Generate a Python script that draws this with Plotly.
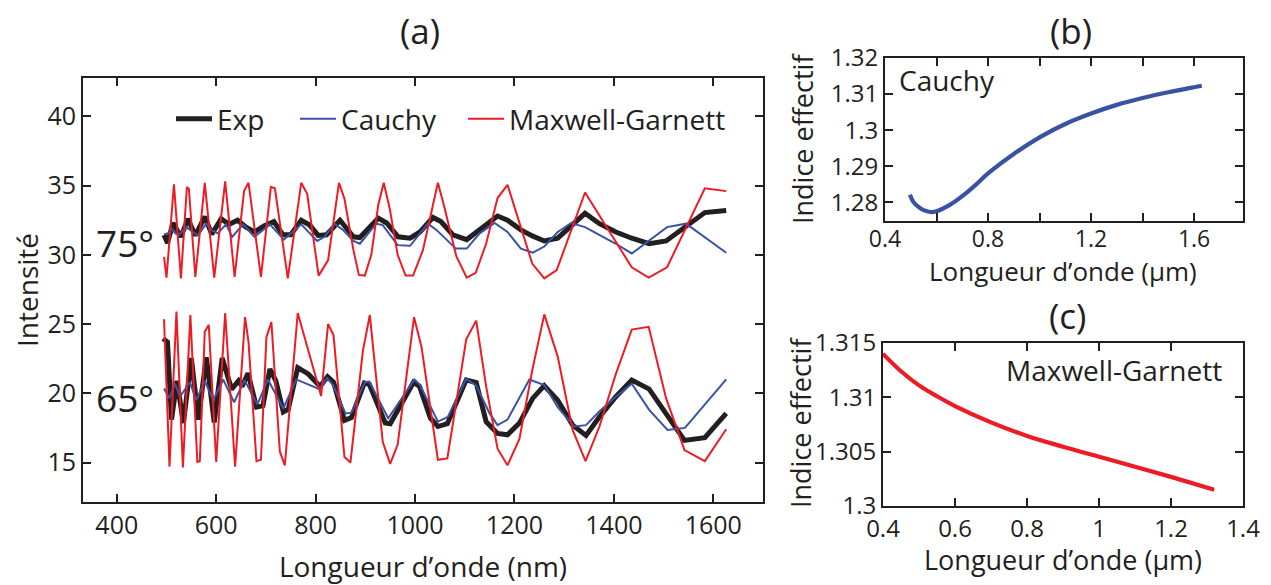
import plotly.graph_objects as go

# ---------------- Panel (a) data : intensity vs wavelength (nm) ----------------
wl_exp75 = [495, 502, 513, 529, 543, 558, 577, 591, 610, 626, 643, 660, 677, 697, 716, 734, 750, 771, 788,
            805, 822, 849, 876, 889, 926, 943, 966, 990, 1010, 1036, 1052, 1076, 1104, 1128, 1166, 1186,
            1213, 1237, 1260, 1287, 1317, 1342, 1371, 1404, 1436, 1471, 1505, 1545, 1583, 1626]
int_exp75 = [31.43, 30.85, 32.3, 31.3, 32.6, 31.4, 32.75, 31.5, 32.6, 32.2, 32.5, 32.0, 31.65, 32.1, 32.4,
             31.45, 31.45, 32.5, 32.15, 31.4, 31.45, 32.5, 31.3, 31.25, 32.65, 32.3, 31.3, 31.2, 31.65, 32.7,
             32.4, 31.45, 31.1, 31.75, 32.8, 32.5, 31.8, 31.35, 31.0, 31.2, 32.15, 33.0, 32.25, 31.65, 31.2,
             30.8, 31.0, 32.0, 33.05, 33.2]

wl_cau75 = [495, 503, 510, 518, 525, 540, 553, 563, 580, 590, 603, 620, 632, 647, 654, 677, 708, 736, 771,
            803, 818, 838, 855, 876, 889, 922, 935, 965, 990, 1026, 1043, 1082, 1104, 1130, 1160, 1186,
            1213, 1237, 1260, 1287, 1314, 1342, 1371, 1404, 1436, 1471, 1507, 1545, 1583, 1626]
int_cau75 = [31.48, 31.55, 31.9, 31.55, 31.45, 32.0, 31.65, 31.4, 32.25, 31.8, 31.55, 32.2, 31.3, 31.9, 32.2,
             31.3, 32.2, 31.1, 32.2, 31.0, 31.3, 32.25, 31.8, 31.0, 30.8, 32.25, 32.15, 30.7, 30.65, 32.25,
             31.8, 30.45, 30.45, 31.55, 32.3, 31.65, 30.45, 30.15, 30.6, 31.65, 32.3, 32.0, 31.45, 30.8,
             30.1, 31.05, 32.0, 32.25, 31.25, 30.15]

wl_mg75 = [495, 500, 515, 529, 541, 545, 558, 577, 596, 618, 637, 656, 665, 690, 710, 718, 744, 771, 783,
           806, 825, 847, 858, 876, 887, 899, 912, 926, 937, 949, 965, 981, 996, 1016, 1036, 1046, 1059,
           1083, 1104, 1122, 1143, 1166, 1186, 1236, 1260, 1285, 1342, 1436, 1470, 1507, 1583, 1626]
int_mg75 = [29.85, 28.35, 35.1, 28.3, 34.9, 34.75, 28.4, 35.2, 28.35, 35.3, 28.4, 34.6, 35.2, 28.4, 34.9,
            34.8, 28.3, 35.2, 34.4, 28.5, 29.6, 35.2, 34.05, 30.35, 28.55, 28.5, 30.0, 33.6, 35.2, 33.35,
            30.0, 28.5, 28.5, 30.35, 33.6, 35.2, 33.45, 29.9, 28.35, 28.7, 30.8, 34.1, 35.05, 29.35, 28.3,
            28.9, 34.5, 29.1, 28.35, 29.1, 34.8, 34.6]

wl_exp65 = [493, 502, 510, 521, 534, 550, 564, 580, 596, 612, 631, 645, 652, 664, 681, 694, 708, 720, 735,
            745, 764, 785, 809, 824, 836, 858, 872, 898, 908, 940, 950, 997, 1009, 1031, 1046, 1065, 1103,
            1123, 1143, 1166, 1186, 1210, 1237, 1260, 1287, 1317, 1344, 1371, 1404, 1436, 1471, 1505,
            1542, 1583, 1626]
int_exp65 = [23.95, 23.7, 18.1, 20.9, 17.85, 22.55, 18.1, 22.6, 17.9, 22.55, 20.3, 20.9, 20.5, 21.45, 19.0,
             19.1, 21.75, 20.9, 18.65, 18.85, 21.85, 21.4, 20.5, 21.2, 20.8, 18.05, 18.25, 20.75, 20.65,
             17.85, 17.8, 20.8, 20.5, 18.2, 17.6, 17.8, 20.97, 20.77, 17.95, 17.1, 17.0, 17.85, 19.65,
             20.55, 19.5, 17.7, 16.95, 18.3, 19.75, 20.95, 20.3, 18.55, 16.6, 16.8, 18.55]

wl_cau65 = [495, 506, 517, 527, 547, 560, 577, 594, 614, 636, 657, 683, 704, 735, 761, 808, 823, 835, 860,
            872, 899, 908, 946, 999, 1010, 1046, 1066, 1103, 1123, 1150, 1166, 1186, 1230, 1260, 1287,
            1320, 1344, 1371, 1404, 1436, 1471, 1508, 1543, 1585, 1626]
int_cau65 = [20.35, 19.65, 20.7, 19.75, 20.8, 19.5, 20.9, 19.5, 21.0, 19.35, 20.95, 19.2, 21.0, 18.9, 21.0,
             20.3, 21.1, 20.6, 18.55, 18.6, 20.8, 20.85, 18.2, 21.0, 20.6, 17.95, 18.3, 21.05, 20.55, 18.55,
             17.7, 18.1, 21.0, 20.6, 19.0, 17.6, 17.7, 18.7, 19.75, 20.7, 18.8, 17.35, 17.5, 19.3, 21.0]

wl_mg65 = [495, 506, 520, 533, 548, 562, 567, 577, 585, 600, 618, 638, 658, 665, 681, 690, 701, 711, 728,
           738, 764, 811, 825, 836, 858, 870, 895, 909, 935, 950, 965, 998, 1013, 1046, 1065, 1103, 1123,
           1143, 1166, 1186, 1210, 1236, 1260, 1287, 1317, 1343, 1371, 1404, 1436, 1470, 1505, 1542,
           1583, 1626]
int_mg65 = [25.35, 14.7, 25.9, 14.65, 25.65, 15.05, 15.1, 24.45, 24.95, 15.05, 25.8, 14.7, 25.5, 23.7, 15.1,
            15.2, 24.05, 25.15, 15.8, 14.8, 25.8, 19.8, 25.0, 24.2, 15.4, 15.0, 23.05, 25.65, 16.5, 14.9,
            16.3, 25.5, 23.35, 15.2, 15.3, 23.9, 25.25, 20.5, 16.0, 14.8, 16.7, 21.7, 25.7, 22.65, 17.35,
            15.1, 17.6, 21.4, 24.6, 24.8, 19.65, 15.9, 15.1, 17.4]

ticks_a_x = [400, 600, 800, 1000, 1200, 1400, 1600]
ticks_a_y = [15, 20, 25, 30, 35, 40]

# ---------------- Panel (b) data : Cauchy effective index ----------------
wl_b = [0.497, 0.51, 0.53, 0.55, 0.575, 0.6, 0.65, 0.7, 0.75, 0.8, 0.9, 1.0, 1.1, 1.2, 1.3, 1.4, 1.5, 1.6, 1.63]
n_cauchy = [1.2821, 1.2801, 1.2787, 1.2778, 1.2773, 1.2775, 1.2792, 1.2817, 1.2847, 1.2880, 1.2934, 1.2980,
            1.3017, 1.3046, 1.3070, 1.3089, 1.3105, 1.3119, 1.3123]
ticks_b_x = [0.4, 0.6, 0.8, 1.0, 1.2, 1.4, 1.6]
labels_b_x = ["0.4", "", "0.8", "", "1.2", "", "1.6"]
ticks_b_y = [1.28, 1.29, 1.30, 1.31, 1.32]
labels_b_y = ["1.28", "1.29", "1.3", "1.31", "1.32"]

# ---------------- Panel (c) data : Maxwell-Garnett effective index ----------------
wl_c = [0.4, 0.45, 0.5, 0.55, 0.6, 0.7, 0.8, 0.9, 1.0, 1.1, 1.2, 1.32]
n_mg = [1.3140, 1.3124, 1.3111, 1.3101, 1.3092, 1.3077, 1.30645, 1.30546, 1.30454, 1.30362, 1.30268, 1.3015]
ticks_c_x = [0.4, 0.6, 0.8, 1.0, 1.2, 1.4]
labels_c_x = ["0.4", "0.6", "0.8", "1", "1.2", "1.4"]
ticks_c_y = [1.300, 1.305, 1.310, 1.315]
labels_c_y = ["1.3", "1.305", "1.31", "1.315"]

# ---------------- styling ----------------
PAGE_OFF = 8                      # default body margin of the html page
W, H = 1271 - PAGE_OFF, 585 - PAGE_OFF
FONT = "Open Sans"
INK = "#231F20"
BLACK = "#231F20"
BLUE = "#3953A4"
RED = "#ED1C24"


def fx(p):
    return (p - PAGE_OFF) / W


def fy(p):
    return 1 - (p - PAGE_OFF) / H


fig = go.Figure()

fig.add_trace(go.Scatter(x=wl_exp75 + [None] + wl_exp65, y=int_exp75 + [None] + int_exp65,
                         mode="lines", name="Exp", line=dict(color=BLACK, width=5),
                         xaxis="x", yaxis="y", legend="legend"))
fig.add_trace(go.Scatter(x=wl_cau75 + [None] + wl_cau65, y=int_cau75 + [None] + int_cau65,
                         mode="lines", name="Cauchy", line=dict(color=BLUE, width=2),
                         xaxis="x", yaxis="y", legend="legend2"))
fig.add_trace(go.Scatter(x=wl_mg75 + [None] + wl_mg65, y=int_mg75 + [None] + int_mg65,
                         mode="lines", name="Maxwell-Garnett", line=dict(color=RED, width=2),
                         xaxis="x", yaxis="y", legend="legend3"))

fig.add_trace(go.Scatter(x=wl_b, y=n_cauchy, mode="lines", line=dict(color=BLUE, width=4.2, shape="spline"),
                         xaxis="x2", yaxis="y2", showlegend=False))
fig.add_trace(go.Scatter(x=wl_c, y=n_mg, mode="lines", line=dict(color=RED, width=4.2, shape="spline"),
                         xaxis="x3", yaxis="y3", showlegend=False))

axis_common = dict(showline=True, linecolor=INK, linewidth=2, mirror="ticks", ticks="inside",
                   ticklen=8, tickwidth=1.5, tickcolor=INK, showgrid=False, zeroline=False,
                   automargin=False)
tick_big = dict(family=FONT, size=25, color=INK)
tick_small = dict(family=FONT, size=24, color=INK)
tick_smaller = dict(family=FONT, size=23, color=INK)

title_font = dict(family=FONT, size=28, color=INK)
small_title_font = dict(family=FONT, size=27, color=INK)
b_title_font = dict(family=FONT, size=26, color=INK)
leg_font = dict(family=FONT, size=28, color=INK)

fig.update_layout(
    width=W, height=H,
    margin=dict(l=0, r=0, t=0, b=0),
    paper_bgcolor="white", plot_bgcolor="white",
    font=dict(family=FONT, color=INK),
    xaxis=dict(domain=[fx(83), fx(763)], range=[332, 1700], tickvals=ticks_a_x, anchor="y",
               tickfont=tick_big,
               title=dict(text="Longueur d\u2019onde (nm)", font=title_font, standoff=17), **axis_common),
    yaxis=dict(domain=[fy(502), fy(78)], range=[12.15, 42.77], tickvals=ticks_a_y, anchor="x",
               tickfont=tick_big,
               title=dict(text="Intensit\u00e9", font=title_font, standoff=10), **axis_common),
    xaxis2=dict(domain=[fx(885), fx(1243)], range=[0.4, 1.79], tickvals=ticks_b_x, ticktext=labels_b_x,
                anchor="y2", tickfont=tick_smaller, ticklabelstandoff=-4, **axis_common),
    yaxis2=dict(domain=[fy(221), fy(58)], range=[1.2748, 1.32], tickvals=ticks_b_y, ticktext=labels_b_y,
                anchor="x2", tickfont=tick_small, **axis_common),
    xaxis3=dict(domain=[fx(883), fx(1243)], range=[0.4, 1.4], tickvals=ticks_c_x, ticktext=labels_c_x,
                anchor="y3", tickfont=tick_small, **axis_common),
    yaxis3=dict(domain=[fy(506), fy(343)], range=[1.3, 1.315], tickvals=ticks_c_y, ticktext=labels_c_y,
                anchor="x3", tickfont=tick_small, **axis_common),
    legend=dict(x=fx(171), y=fy(119), xanchor="left", yanchor="middle", orientation="h", itemwidth=36,
                bgcolor="rgba(0,0,0,0)", font=leg_font),
    legend2=dict(x=fx(295), y=fy(119), xanchor="left", yanchor="middle", orientation="h", itemwidth=36,
                 bgcolor="rgba(0,0,0,0)", font=leg_font),
    legend3=dict(x=fx(463), y=fy(119), xanchor="left", yanchor="middle", orientation="h", itemwidth=36,
                 bgcolor="rgba(0,0,0,0)", font=leg_font),
)

ann_font = dict(family=FONT, color=INK)
annotations = [
    dict(text="(a)", x=fx(420), y=fy(31), font=dict(size=35, **ann_font)),
    dict(text="(b)", x=fx(1071), y=fy(31), font=dict(size=35, **ann_font)),
    dict(text="(c)", x=fx(1067), y=fy(315), font=dict(size=35, **ann_font)),
    dict(text="75\u00b0", x=fx(125), y=fy(242), font=dict(size=37, **ann_font)),
    dict(text="65\u00b0", x=fx(125), y=fy(397), font=dict(size=37, **ann_font)),
    dict(text="Cauchy", x=fx(947), y=fy(80), font=dict(size=28, **ann_font)),
    dict(text="Maxwell-Garnett", x=fx(1114), y=fy(370), font=dict(size=28, **ann_font)),
    # axis titles of the two small panels
    dict(text="Longueur d\u2019onde (\u00b5m)", x=fx(1063), y=fy(271), font=b_title_font),
    dict(text="Longueur d\u2019onde (\u00b5m)", x=fx(1063), y=fy(559), font=small_title_font),
    dict(text="Indice effectif", x=fx(803), y=fy(139), textangle=-90, font=small_title_font),
    dict(text="Indice effectif", x=fx(800), y=fy(423), textangle=-90, font=small_title_font),
]
for a in annotations:
    a.update(xref="paper", yref="paper", showarrow=False, xanchor="center", yanchor="middle")
fig.update_layout(annotations=annotations)

fig.write_html("out.html")
